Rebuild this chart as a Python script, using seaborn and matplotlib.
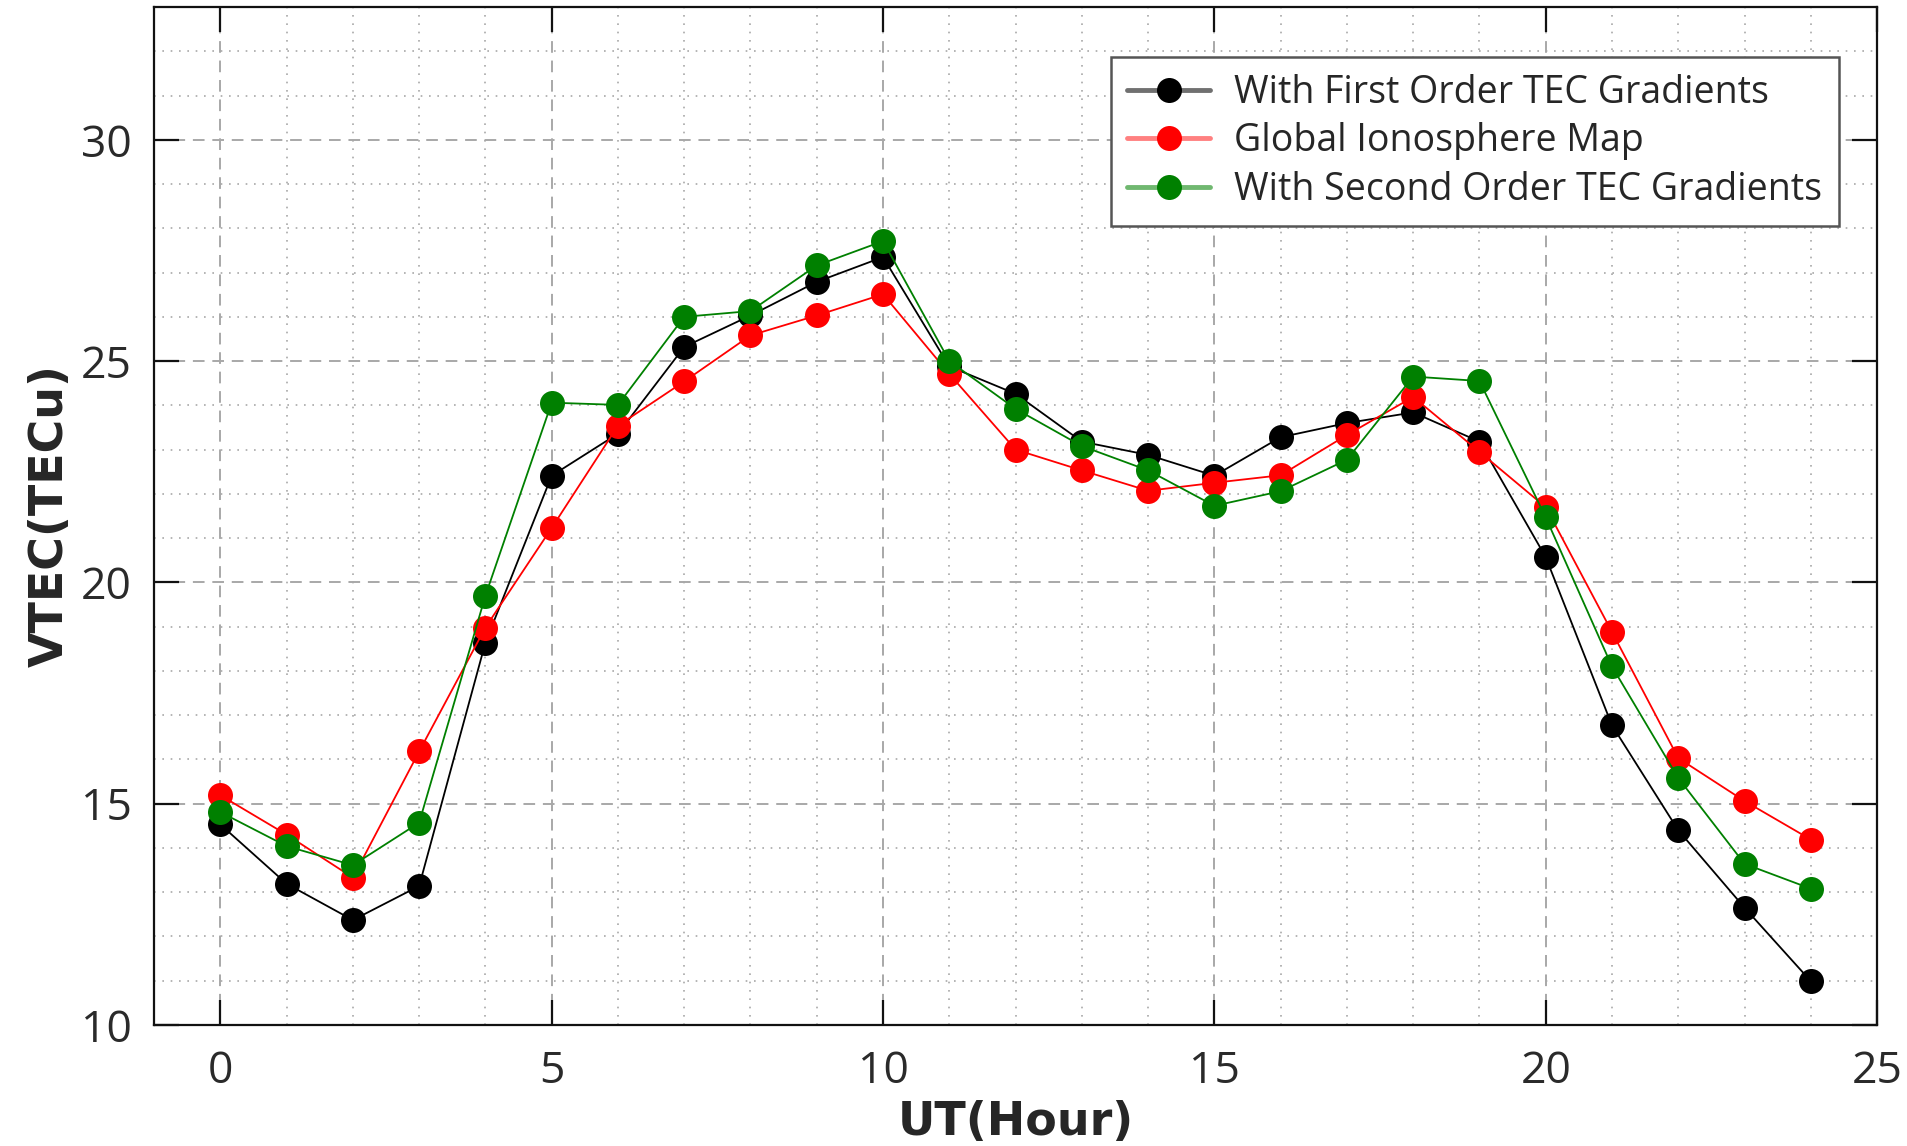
import matplotlib
matplotlib.use("Agg")
import matplotlib.pyplot as plt
from matplotlib.ticker import MultipleLocator
import seaborn as sns
import pandas as pd

hours = list(range(25))
first_order = [14.53, 13.19, 12.37, 13.14, 18.64, 22.41, 23.36, 25.32, 26.03, 26.79,
               27.35, 24.88, 24.26, 23.18, 22.88, 22.41, 23.28, 23.60, 23.84, 23.18,
               20.57, 16.77, 14.40, 12.65, 10.99]
gim = [15.19, 14.30, 13.33, 16.18, 18.98, 21.23, 23.54, 24.54, 25.58, 26.03,
       26.51, 24.71, 23.00, 22.53, 22.07, 22.25, 22.42, 23.33, 24.19, 22.95,
       21.70, 18.88, 16.03, 15.06, 14.19]
second_order = [14.81, 14.04, 13.61, 14.57, 19.70, 24.06, 24.01, 26.00, 26.13, 27.16,
                27.71, 25.00, 23.92, 23.08, 22.53, 21.73, 22.06, 22.77, 24.65, 24.55,
                21.47, 18.10, 15.58, 13.64, 13.08]
labels = ["With First Order TEC Gradients", "Global Ionosphere Map",
          "With Second Order TEC Gradients"]
colors = ["#000000", "#ff0000", "#008000"]
legend_line_colors = ["#707070", "#ff8080", "#70b870"]

sns.set_style("white")
plt.rcParams['font.family'] = ['Open Sans', 'DejaVu Sans']

fig = plt.figure(figsize=(19.07, 11.46), dpi=100)
ax = fig.add_axes([0.0808, 0.1056, 0.9035, 0.8883])

for vals, lab, col in zip([first_order, gim, second_order], labels, colors):
    df = pd.DataFrame({"UT": hours, "VTEC": vals})
    sns.lineplot(data=df, x="UT", y="VTEC", ax=ax, color=col, linewidth=1.3,
                 marker="o", markersize=18, markeredgewidth=0,
                 markerfacecolor=col, label=lab, zorder=3)

ax.set_xlim(-1, 25)
ax.set_ylim(10, 33)
ax.xaxis.set_major_locator(MultipleLocator(5))
ax.xaxis.set_minor_locator(MultipleLocator(1))
ax.yaxis.set_major_locator(MultipleLocator(5))
ax.yaxis.set_minor_locator(MultipleLocator(1))

ax.grid(which="major", color="#a8a8a8", linestyle=(0, (6, 4)), linewidth=1.4)
ax.grid(which="minor", color="#a8a8a8", linestyle=(0, (1, 4)), linewidth=1.2)
ax.set_axisbelow(True)

for s in ax.spines.values():
    s.set_visible(True)
    s.set_color("#111111")
    s.set_linewidth(1.6)

ax.tick_params(which="major", direction="in", length=18, width=1.6,
               top=True, right=True, bottom=True, left=True,
               labelsize=32, colors="#111111", labelcolor="#2a2a2a")
ax.tick_params(axis="y", which="major", pad=16)
ax.tick_params(axis="x", which="major", pad=18)
ax.tick_params(which="minor", length=0)

ax.set_xlabel("UT(Hour)", fontsize=33, fontweight="bold",
              family=["DejaVu Sans"], labelpad=4)
ax.set_ylabel("VTEC(TECu)", fontsize=33, fontweight="bold",
              family=["DejaVu Sans"], labelpad=6)

leg = ax.legend(loc="upper right", bbox_to_anchor=(0.978, 0.951), borderaxespad=0,
                fontsize=27, frameon=True, fancybox=False, edgecolor="#555555",
                framealpha=1, handlelength=2.2, handletextpad=0.65,
                labelspacing=0.28, borderpad=0.45)
leg.get_frame().set_linewidth(1.8)
for h, lc in zip(leg.legend_handles, legend_line_colors):
    h.set_color(lc)
    h.set_linewidth(3.5)

fig.savefig("out.png", dpi=100)
